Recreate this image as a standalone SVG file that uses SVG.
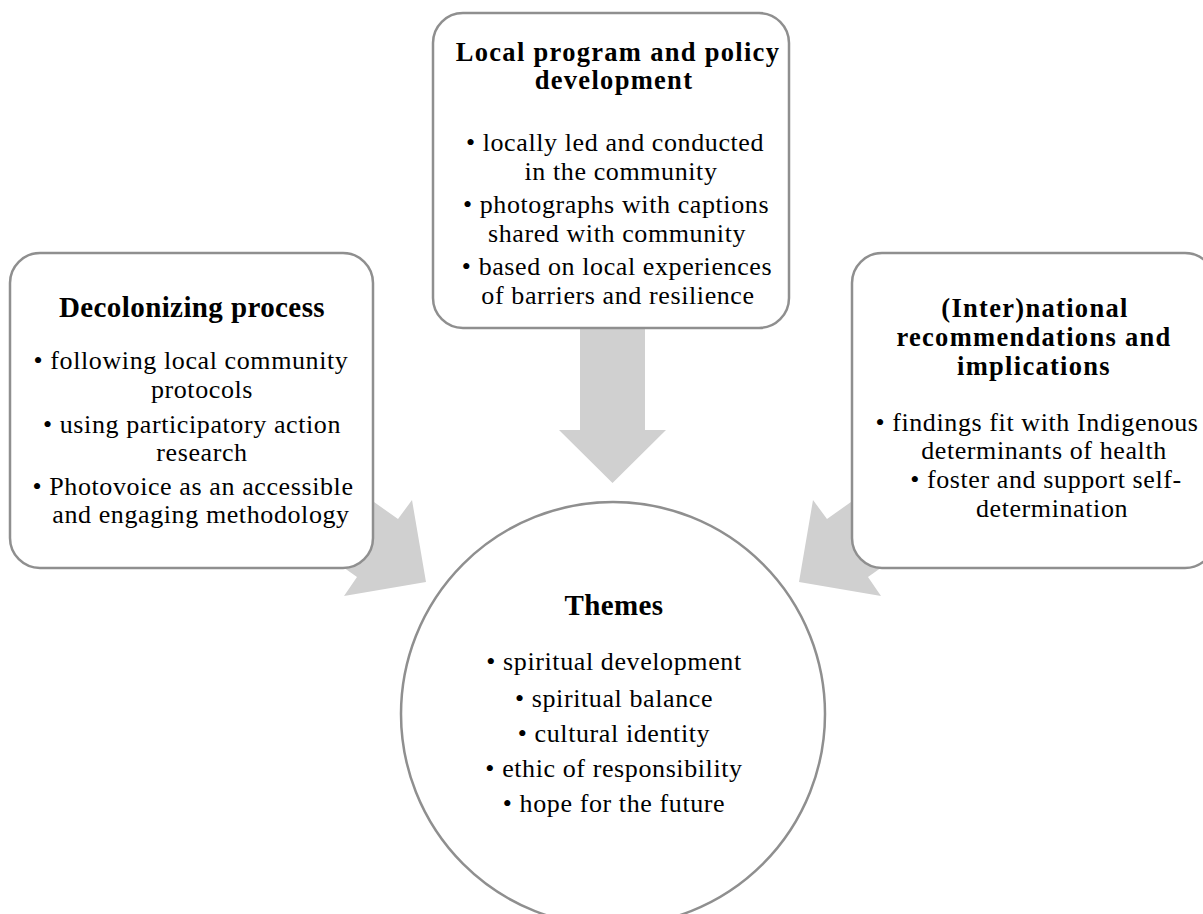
<svg xmlns="http://www.w3.org/2000/svg" width="1203" height="914" viewBox="0 0 1203 914">
  <style>
    .box { fill: #ffffff; stroke: #8f8f8f; stroke-width: 2.5; }
    .arrow { fill: #d0d0d0; stroke: none; }
    text { font-family: "Liberation Serif", "Times New Roman", serif; fill: #000000; text-anchor: middle; }
    .title { font-size: 26.5px; font-weight: bold; letter-spacing: 1.3px; }
    .title-lg { font-size: 29px; font-weight: bold; letter-spacing: 0.4px; }
    .body { font-size: 26px; letter-spacing: 0.6px; }
  </style>
  <rect x="0" y="0" width="1203" height="914" fill="#ffffff"/>

  <!-- block arrows pointing into the central circle -->
  <g id="connectors">
    <polygon class="arrow" points="580,320 645,320 645,430 666,430 612.5,483 559,430 580,430"/>
    <polygon class="arrow" points="426,582 412,500 398,519 275.6,432.3 234.6,490.3 357,577 344,596"/>
    <polygon class="arrow" points="799,582 813,500 827,519 949.4,432.3 990.4,490.3 868,577 881,596"/>
  </g>

  <g id="local-program">
    <rect class="box" x="433" y="13" width="356" height="315" rx="30" ry="30"/>
    <text class="title" x="618" y="61">Local program and policy</text>
    <text class="title" x="614" y="89">development</text>
    <text class="body" x="615" y="151">• locally led and conducted</text>
    <text class="body" x="621" y="180">in the community</text>
    <text class="body" x="616" y="213">• photographs with captions</text>
    <text class="body" x="617" y="242">shared with community</text>
    <text class="body" x="617" y="275">• based on local experiences</text>
    <text class="body" x="618" y="304">of barriers and resilience</text>
  </g>

  <g id="decolonizing">
    <rect class="box" x="10" y="253" width="363" height="315" rx="30" ry="30"/>
    <text class="title-lg" x="192" y="317">Decolonizing process</text>
    <text class="body" x="191" y="369">• following local community</text>
    <text class="body" x="202" y="398">protocols</text>
    <text class="body" x="192" y="433">• using participatory action</text>
    <text class="body" x="202" y="461">research</text>
    <text class="body" x="193" y="495">• Photovoice as an accessible</text>
    <text class="body" x="201" y="523">and engaging methodology</text>
  </g>

  <g id="international">
    <rect class="box" x="852" y="253" width="363" height="315" rx="30" ry="30"/>
    <text class="title" x="1035" y="317">(Inter)national</text>
    <text class="title" x="1034" y="346">recommendations and</text>
    <text class="title" x="1034" y="375">implications</text>
    <text class="body" x="1037" y="431">• findings fit with Indigenous</text>
    <text class="body" x="1044" y="459">determinants of health</text>
    <text class="body" x="1046" y="488">• foster and support self-</text>
    <text class="body" x="1052" y="517">determination</text>
  </g>

  <g id="themes">
    <circle class="box" cx="613" cy="714" r="212"/>
    <text class="title-lg" x="614" y="615">Themes</text>
    <text class="body" x="614" y="670">• spiritual development</text>
    <text class="body" x="614" y="707">• spiritual balance</text>
    <text class="body" x="614" y="742">• cultural identity</text>
    <text class="body" x="614" y="777">• ethic of responsibility</text>
    <text class="body" x="614" y="812">• hope for the future</text>
  </g>
</svg>
